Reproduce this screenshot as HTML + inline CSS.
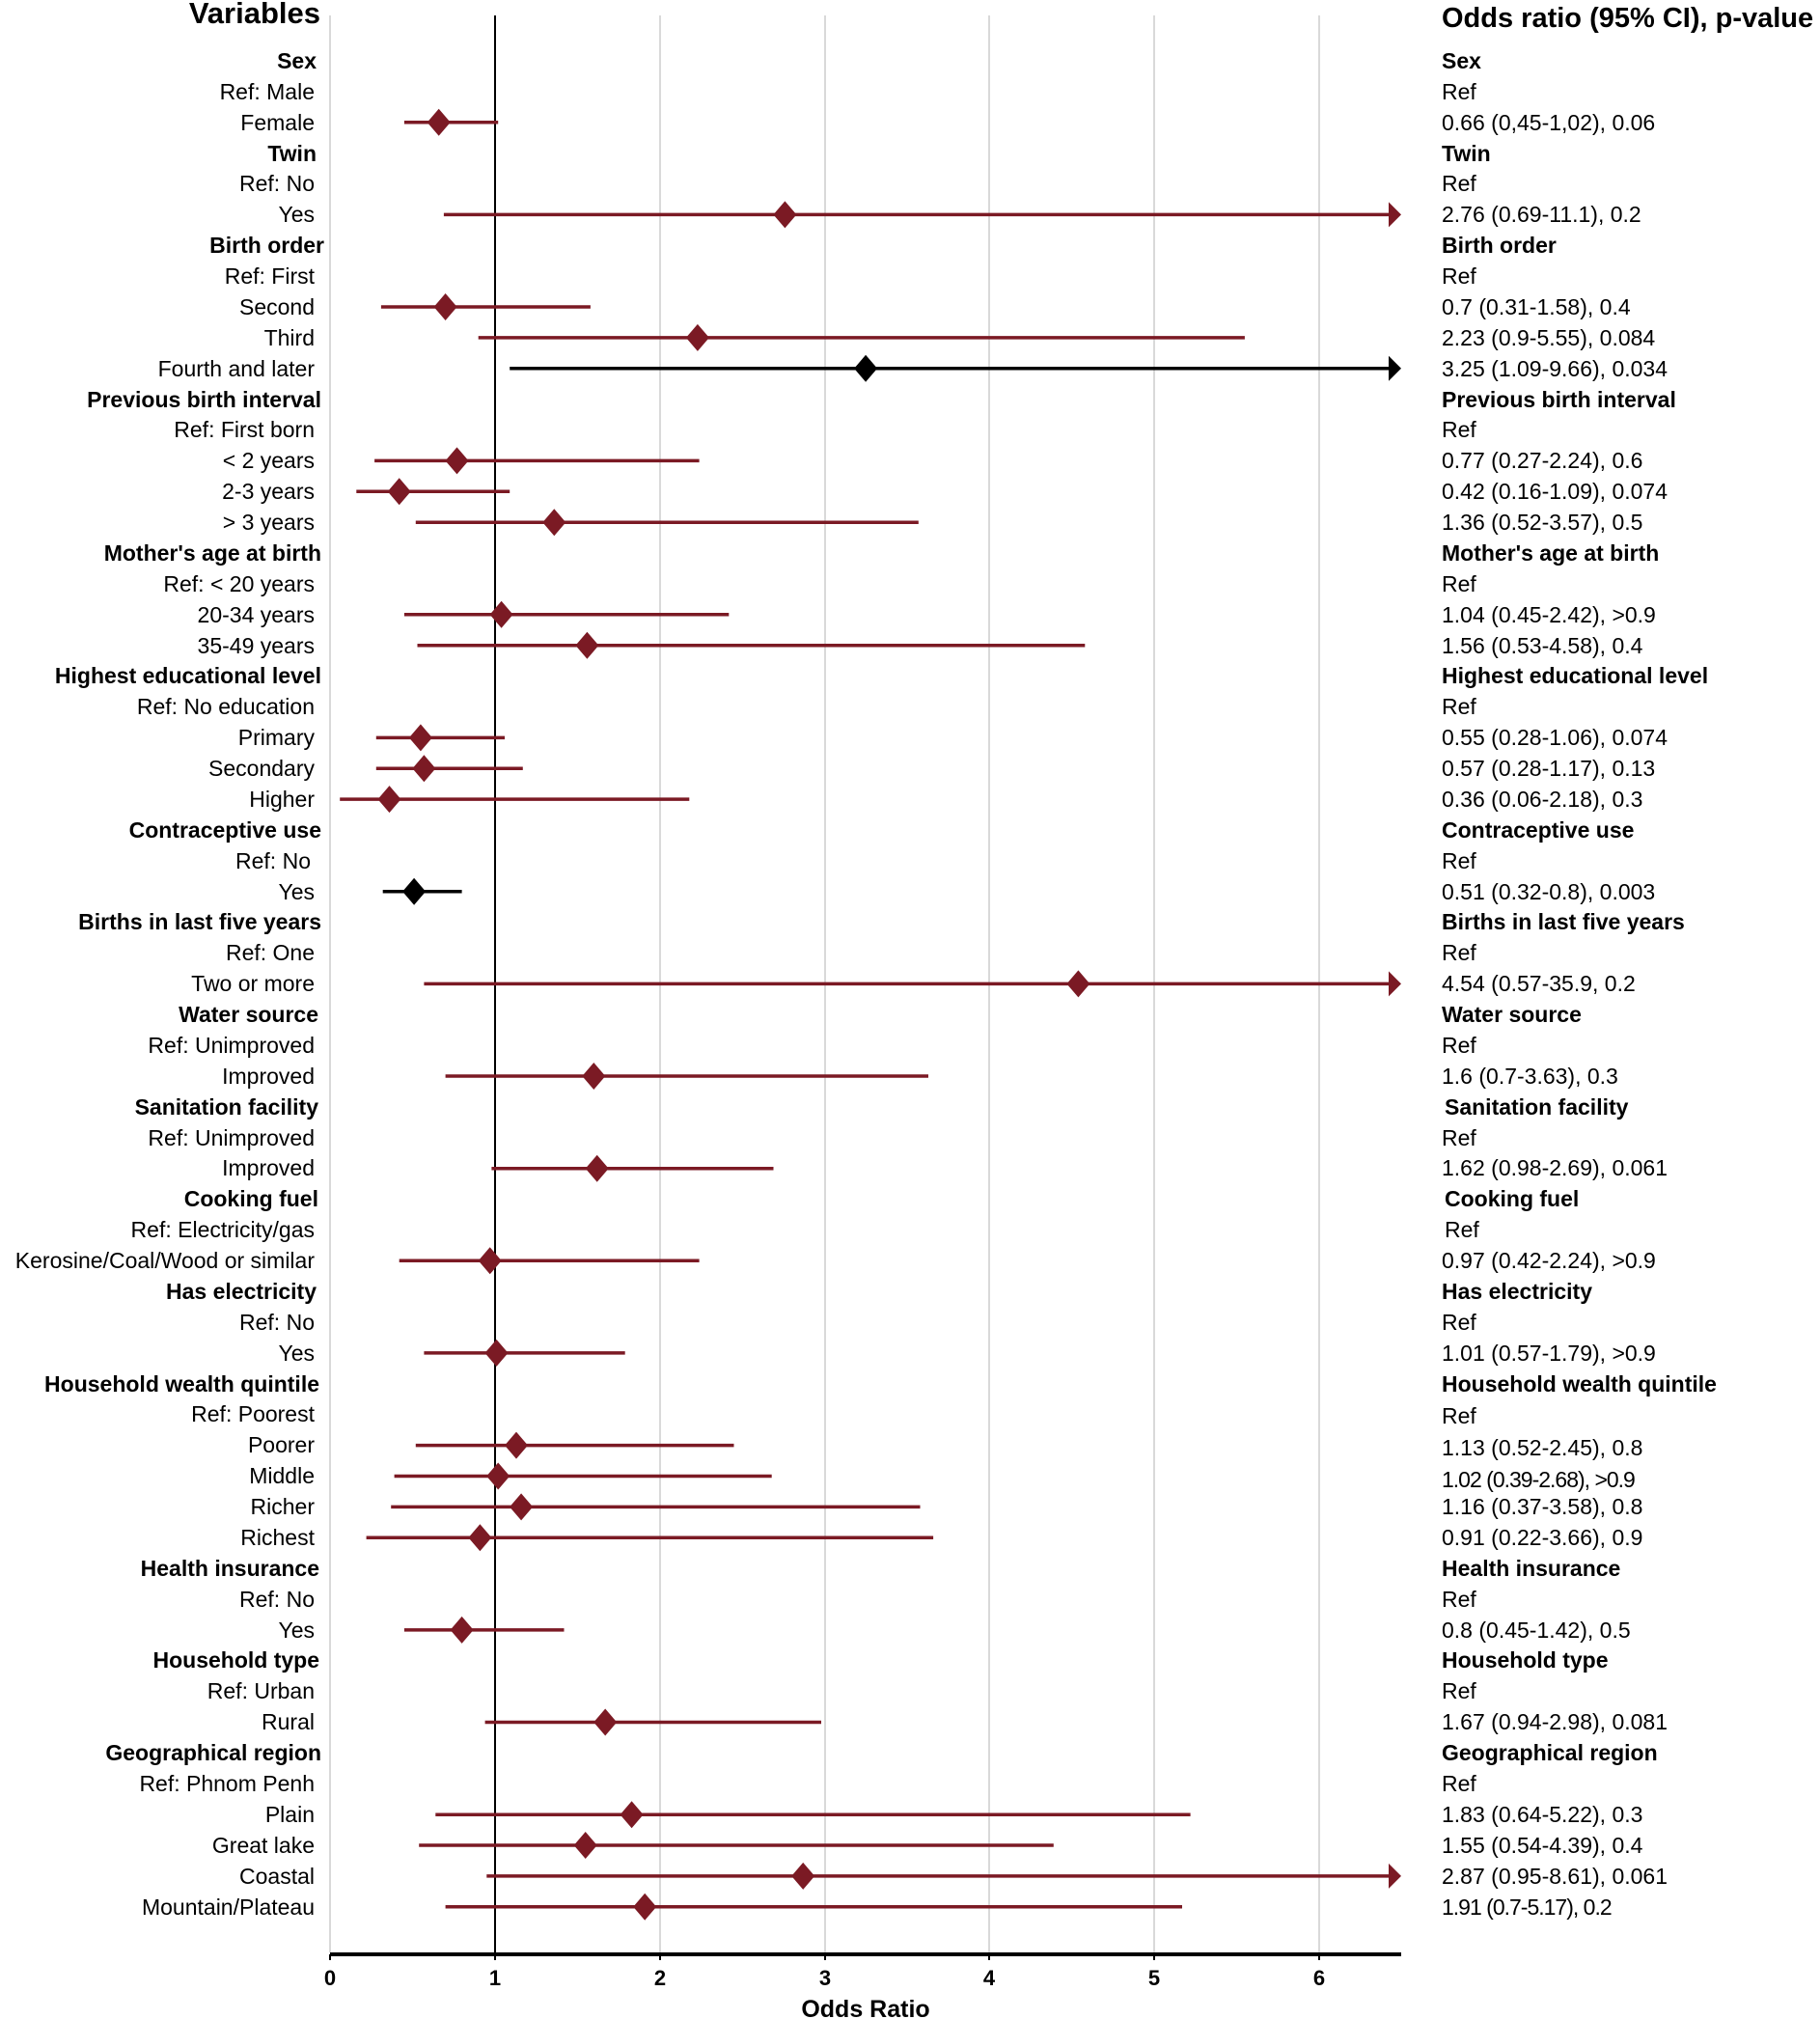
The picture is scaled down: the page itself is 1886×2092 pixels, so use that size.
<!DOCTYPE html>
<html><head><meta charset="utf-8"><style>
html,body{margin:0;padding:0;background:#fff;}
svg{display:block;}
text{font-family:"Liberation Sans",sans-serif;fill:#000;}
.l{font-size:23px;text-anchor:end;}
.r{font-size:23px;}
.b{font-weight:bold;}
</style></head><body>
<svg width="1886" height="2092" viewBox="0 0 1886 2092" xmlns="http://www.w3.org/2000/svg">
<g stroke="#d9d9d9" stroke-width="2">
<line x1="342" y1="16" x2="342" y2="2023"/>
<line x1="684" y1="16" x2="684" y2="2023"/>
<line x1="855" y1="16" x2="855" y2="2023"/>
<line x1="1025" y1="16" x2="1025" y2="2023"/>
<line x1="1196" y1="16" x2="1196" y2="2023"/>
<line x1="1367" y1="16" x2="1367" y2="2023"/>
</g>
<line x1="513" y1="16" x2="513" y2="2023" stroke="#000" stroke-width="2"/>
<line x1="342" y1="2025" x2="1452" y2="2025" stroke="#000" stroke-width="4"/>
<g stroke="#000" stroke-width="2">
<line x1="342" y1="2025" x2="342" y2="2031"/><line x1="513" y1="2025" x2="513" y2="2031"/><line x1="684" y1="2025" x2="684" y2="2031"/><line x1="855" y1="2025" x2="855" y2="2031"/><line x1="1025" y1="2025" x2="1025" y2="2031"/><line x1="1196" y1="2025" x2="1196" y2="2031"/><line x1="1367" y1="2025" x2="1367" y2="2031"/>
</g>
<g font-size="22" font-weight="bold" text-anchor="middle">
<text x="342" y="2057">0</text><text x="513" y="2057">1</text><text x="684" y="2057">2</text><text x="855" y="2057">3</text><text x="1025" y="2057">4</text><text x="1196" y="2057">5</text><text x="1367" y="2057">6</text>
<text x="897" y="2090" font-size="25">Odds Ratio</text>
</g>
<text x="332" y="24" font-size="31" font-weight="bold" text-anchor="end">Variables</text>
<text x="1494" y="28" font-size="29" font-weight="bold">Odds ratio (95% CI), p-value</text>

<g stroke="#7b1a24" stroke-width="3.5">
<line x1="418.9" y1="126.8" x2="516.2" y2="126.8"/>
<line x1="459.9" y1="222.4" x2="1440" y2="222.4"/>
<line x1="394.9" y1="318.0" x2="611.9" y2="318.0"/>
<line x1="495.7" y1="349.9" x2="1289.9" y2="349.9"/>
<line x1="388.1" y1="477.4" x2="724.6" y2="477.4"/>
<line x1="369.3" y1="509.3" x2="528.2" y2="509.3"/>
<line x1="430.8" y1="541.2" x2="951.8" y2="541.2"/>
<line x1="418.9" y1="636.8" x2="755.3" y2="636.8"/>
<line x1="432.5" y1="668.7" x2="1124.3" y2="668.7"/>
<line x1="389.8" y1="764.4" x2="523.0" y2="764.4"/>
<line x1="389.8" y1="796.2" x2="541.8" y2="796.2"/>
<line x1="352.2" y1="828.1" x2="714.3" y2="828.1"/>
<line x1="439.4" y1="1019.4" x2="1440" y2="1019.4"/>
<line x1="461.6" y1="1115.0" x2="962.0" y2="1115.0"/>
<line x1="509.4" y1="1210.7" x2="801.5" y2="1210.7"/>
<line x1="413.7" y1="1306.3" x2="724.6" y2="1306.3"/>
<line x1="439.4" y1="1401.9" x2="647.7" y2="1401.9"/>
<line x1="430.8" y1="1497.6" x2="760.5" y2="1497.6"/>
<line x1="408.6" y1="1529.5" x2="799.7" y2="1529.5"/>
<line x1="405.2" y1="1561.4" x2="953.5" y2="1561.4"/>
<line x1="379.6" y1="1593.2" x2="967.1" y2="1593.2"/>
<line x1="418.9" y1="1688.9" x2="584.5" y2="1688.9"/>
<line x1="502.6" y1="1784.5" x2="851.0" y2="1784.5"/>
<line x1="451.3" y1="1880.2" x2="1233.6" y2="1880.2"/>
<line x1="434.2" y1="1912.0" x2="1091.8" y2="1912.0"/>
<line x1="504.3" y1="1943.9" x2="1440" y2="1943.9"/>
<line x1="461.6" y1="1975.8" x2="1225.0" y2="1975.8"/>
</g>
<g stroke="#000" stroke-width="3.5">
<line x1="528.2" y1="381.8" x2="1440" y2="381.8"/>
<line x1="396.7" y1="923.8" x2="478.6" y2="923.8"/>
</g>
<g fill="#7b1a24">
<path d="M1439 209.4L1452 222.4L1439 235.4Z"/>
<path d="M1439 1006.4L1452 1019.4L1439 1032.4Z"/>
<path d="M1439 1930.9L1452 1943.9L1439 1956.9Z"/>
<path d="M442.7 126.8l12 -14l12 14l-12 14z"/>
<path d="M801.4 222.4l12 -14l12 14l-12 14z"/>
<path d="M449.6 318.0l12 -14l12 14l-12 14z"/>
<path d="M710.9 349.9l12 -14l12 14l-12 14z"/>
<path d="M461.5 477.4l12 -14l12 14l-12 14z"/>
<path d="M401.7 509.3l12 -14l12 14l-12 14z"/>
<path d="M562.3 541.2l12 -14l12 14l-12 14z"/>
<path d="M507.6 636.8l12 -14l12 14l-12 14z"/>
<path d="M596.4 668.7l12 -14l12 14l-12 14z"/>
<path d="M423.9 764.4l12 -14l12 14l-12 14z"/>
<path d="M427.4 796.2l12 -14l12 14l-12 14z"/>
<path d="M391.5 828.1l12 -14l12 14l-12 14z"/>
<path d="M1105.4 1019.4l12 -14l12 14l-12 14z"/>
<path d="M603.3 1115.0l12 -14l12 14l-12 14z"/>
<path d="M606.7 1210.7l12 -14l12 14l-12 14z"/>
<path d="M495.7 1306.3l12 -14l12 14l-12 14z"/>
<path d="M502.5 1401.9l12 -14l12 14l-12 14z"/>
<path d="M523.0 1497.6l12 -14l12 14l-12 14z"/>
<path d="M504.2 1529.5l12 -14l12 14l-12 14z"/>
<path d="M528.1 1561.4l12 -14l12 14l-12 14z"/>
<path d="M485.4 1593.2l12 -14l12 14l-12 14z"/>
<path d="M466.6 1688.9l12 -14l12 14l-12 14z"/>
<path d="M615.2 1784.5l12 -14l12 14l-12 14z"/>
<path d="M642.6 1880.2l12 -14l12 14l-12 14z"/>
<path d="M594.7 1912.0l12 -14l12 14l-12 14z"/>
<path d="M820.2 1943.9l12 -14l12 14l-12 14z"/>
<path d="M656.2 1975.8l12 -14l12 14l-12 14z"/>
</g>
<g fill="#000">
<path d="M1439 368.8L1452 381.8L1439 394.8Z"/>
<path d="M885.1 381.8l12 -14l12 14l-12 14z"/>
<path d="M417.1 923.8l12 -14l12 14l-12 14z"/>
</g>

<g>
<text class="l b" x="328" y="71">Sex</text>
<text class="l" x="326" y="103">Ref: Male</text>
<text class="l" x="326" y="135">Female</text>
<text class="l b" x="328" y="167">Twin</text>
<text class="l" x="326" y="198">Ref: No</text>
<text class="l" x="326" y="230">Yes</text>
<text class="l b" x="336" y="262">Birth order</text>
<text class="l" x="326" y="294">Ref: First</text>
<text class="l" x="326" y="326">Second</text>
<text class="l" x="326" y="358">Third</text>
<text class="l" x="326" y="390">Fourth and later</text>
<text class="l b" x="333" y="422">Previous birth interval</text>
<text class="l" x="326" y="453">Ref: First born</text>
<text class="l" x="326" y="485">&lt; 2 years</text>
<text class="l" x="326" y="517">2-3 years</text>
<text class="l" x="326" y="549">&gt; 3 years</text>
<text class="l b" x="333" y="581">Mother's age at birth</text>
<text class="l" x="326" y="613">Ref: &lt; 20 years</text>
<text class="l" x="326" y="645">20-34 years</text>
<text class="l" x="326" y="677">35-49 years</text>
<text class="l b" x="333" y="708">Highest educational level</text>
<text class="l" x="326" y="740">Ref: No education</text>
<text class="l" x="326" y="772">Primary</text>
<text class="l" x="326" y="804">Secondary</text>
<text class="l" x="326" y="836">Higher</text>
<text class="l b" x="333" y="868">Contraceptive use</text>
<text class="l" x="322" y="900">Ref: No</text>
<text class="l" x="326" y="932">Yes</text>
<text class="l b" x="333" y="963">Births in last five years</text>
<text class="l" x="326" y="995">Ref: One</text>
<text class="l" x="326" y="1027">Two or more</text>
<text class="l b" x="330" y="1059">Water source</text>
<text class="l" x="326" y="1091">Ref: Unimproved</text>
<text class="l" x="326" y="1123">Improved</text>
<text class="l b" x="330" y="1155">Sanitation facility</text>
<text class="l" x="326" y="1187">Ref: Unimproved</text>
<text class="l" x="326" y="1218">Improved</text>
<text class="l b" x="330" y="1250">Cooking fuel</text>
<text class="l" x="326" y="1282">Ref: Electricity/gas</text>
<text class="l" x="326" y="1314">Kerosine/Coal/Wood or similar</text>
<text class="l b" x="328" y="1346">Has electricity</text>
<text class="l" x="326" y="1378">Ref: No</text>
<text class="l" x="326" y="1410">Yes</text>
<text class="l b" x="331" y="1442">Household wealth quintile</text>
<text class="l" x="326" y="1473">Ref: Poorest</text>
<text class="l" x="326" y="1505">Poorer</text>
<text class="l" x="326" y="1537">Middle</text>
<text class="l" x="326" y="1569">Richer</text>
<text class="l" x="326" y="1601">Richest</text>
<text class="l b" x="331" y="1633">Health insurance</text>
<text class="l" x="326" y="1665">Ref: No</text>
<text class="l" x="326" y="1697">Yes</text>
<text class="l b" x="331" y="1728">Household type</text>
<text class="l" x="326" y="1760">Ref: Urban</text>
<text class="l" x="326" y="1792">Rural</text>
<text class="l b" x="333" y="1824">Geographical region</text>
<text class="l" x="326" y="1856">Ref: Phnom Penh</text>
<text class="l" x="326" y="1888">Plain</text>
<text class="l" x="326" y="1920">Great lake</text>
<text class="l" x="326" y="1952">Coastal</text>
<text class="l" x="326" y="1984">Mountain/Plateau</text>
</g>
<g>
<text class="r b" x="1494" y="71">Sex</text>
<text class="r" x="1494" y="103">Ref</text>
<text class="r" x="1494" y="135">0.66 (0,45-1,02), 0.06</text>
<text class="r b" x="1494" y="167">Twin</text>
<text class="r" x="1494" y="198">Ref</text>
<text class="r" x="1494" y="230">2.76 (0.69-11.1), 0.2</text>
<text class="r b" x="1494" y="262">Birth order</text>
<text class="r" x="1494" y="294">Ref</text>
<text class="r" x="1494" y="326">0.7 (0.31-1.58), 0.4</text>
<text class="r" x="1494" y="358">2.23 (0.9-5.55), 0.084</text>
<text class="r" x="1494" y="390">3.25 (1.09-9.66), 0.034</text>
<text class="r b" x="1494" y="422">Previous birth interval</text>
<text class="r" x="1494" y="453">Ref</text>
<text class="r" x="1494" y="485">0.77 (0.27-2.24), 0.6</text>
<text class="r" x="1494" y="517">0.42 (0.16-1.09), 0.074</text>
<text class="r" x="1494" y="549">1.36 (0.52-3.57), 0.5</text>
<text class="r b" x="1494" y="581">Mother's age at birth</text>
<text class="r" x="1494" y="613">Ref</text>
<text class="r" x="1494" y="645">1.04 (0.45-2.42), &gt;0.9</text>
<text class="r" x="1494" y="677">1.56 (0.53-4.58), 0.4</text>
<text class="r b" x="1494" y="708">Highest educational level</text>
<text class="r" x="1494" y="740">Ref</text>
<text class="r" x="1494" y="772">0.55 (0.28-1.06), 0.074</text>
<text class="r" x="1494" y="804">0.57 (0.28-1.17), 0.13</text>
<text class="r" x="1494" y="836">0.36 (0.06-2.18), 0.3</text>
<text class="r b" x="1494" y="868">Contraceptive use</text>
<text class="r" x="1494" y="900">Ref</text>
<text class="r" x="1494" y="932">0.51 (0.32-0.8), 0.003</text>
<text class="r b" x="1494" y="963">Births in last five years</text>
<text class="r" x="1494" y="995">Ref</text>
<text class="r" x="1494" y="1027">4.54 (0.57-35.9, 0.2</text>
<text class="r b" x="1494" y="1059">Water source</text>
<text class="r" x="1494" y="1091">Ref</text>
<text class="r" x="1494" y="1123">1.6 (0.7-3.63), 0.3</text>
<text class="r b" x="1497" y="1155">Sanitation facility</text>
<text class="r" x="1494" y="1187">Ref</text>
<text class="r" x="1494" y="1218">1.62 (0.98-2.69), 0.061</text>
<text class="r b" x="1497" y="1250">Cooking fuel</text>
<text class="r" x="1497" y="1282">Ref</text>
<text class="r" x="1494" y="1314">0.97 (0.42-2.24), &gt;0.9</text>
<text class="r b" x="1494" y="1346">Has electricity</text>
<text class="r" x="1494" y="1378">Ref</text>
<text class="r" x="1494" y="1410">1.01 (0.57-1.79), &gt;0.9</text>
<text class="r b" x="1494" y="1442">Household wealth quintile</text>
<text class="r" x="1494" y="1475">Ref</text>
<text class="r" x="1494" y="1508">1.13 (0.52-2.45), 0.8</text>
<text class="r" x="1494" y="1541" font-size="21" letter-spacing="-1">1.02 (0.39-2.68), &gt;0.9</text>
<text class="r" x="1494" y="1569">1.16 (0.37-3.58), 0.8</text>
<text class="r" x="1494" y="1601">0.91 (0.22-3.66), 0.9</text>
<text class="r b" x="1494" y="1633">Health insurance</text>
<text class="r" x="1494" y="1665">Ref</text>
<text class="r" x="1494" y="1697">0.8 (0.45-1.42), 0.5</text>
<text class="r b" x="1494" y="1728">Household type</text>
<text class="r" x="1494" y="1760">Ref</text>
<text class="r" x="1494" y="1792">1.67 (0.94-2.98), 0.081</text>
<text class="r b" x="1494" y="1824">Geographical region</text>
<text class="r" x="1494" y="1856">Ref</text>
<text class="r" x="1494" y="1888">1.83 (0.64-5.22), 0.3</text>
<text class="r" x="1494" y="1920">1.55 (0.54-4.39), 0.4</text>
<text class="r" x="1494" y="1952">2.87 (0.95-8.61), 0.061</text>
<text class="r" x="1494" y="1984" letter-spacing="-1">1.91 (0.7-5.17), 0.2</text>
</g>
</svg>
</body></html>
